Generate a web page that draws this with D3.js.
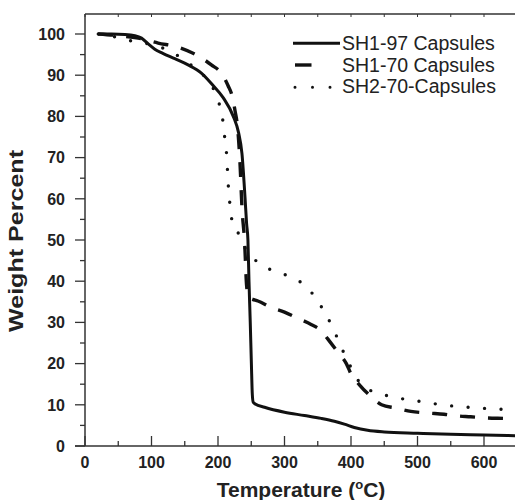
<!DOCTYPE html>
<html><head><meta charset="utf-8">
<script src="https://cdn.jsdelivr.net/npm/d3@7"></script>
<style>body{margin:0;background:#fff}svg{display:block}text{font-family:"Liberation Sans",Arial,sans-serif;fill:#222}</style>
</head><body>
<svg id="c" width="515" height="500"></svg>
<script>
const seriesNames = ["SH1-97 Capsules", "SH1-70 Capsules", "SH2-70-Capsules"];
const sh197 = [[20,100],[40,100],[60,99.9],[75,99.6],[85,99],[95,97.6],[105,96.3],[117,95.3],[135,94],[155,92.5],[175,90.5],[192,87.6],[208,84.5],[223,80],[231,76],[236,71],[240.6,60.4],[243,54],[245,50],[246.6,40],[248.5,30],[250.2,20],[251.6,12.5],[253,10.6],[256,10.2],[270,9.4],[300,8.2],[330,7.4],[355,6.7],[375,6],[390,5.3],[405,4.5],[425,3.8],[450,3.4],[500,3.1],[550,2.85],[600,2.7],[650,2.5]];
const sh170 = [[20,100],[50,99.6],[80,99],[110,97.8],[140,96.8],[160,95.5],[175,94.2],[190,92.5],[205,90.5],[215,87.5],[222,84.5],[226,81],[229,78],[233,69],[236,58],[240,49.5],[243,39],[246,36],[252,35.6],[260,35.2],[280,33.6],[300,32.5],[320,31],[340,29.5],[355,28],[365,26],[380,22.8],[393,20],[400,17.5],[413,14.8],[430,12],[446,10],[468,9.2],[490,8.4],[515,8.0],[540,7.7],[560,7.3],[580,7.1],[605,6.8],[630,6.7],[650,6.6]];
const sh270 = [[20,100],[48,99.2],[70,98.3],[95,97.6],[117,96.6],[137,95],[155,93],[175,90.5],[190,87.6],[201,83.5],[207,79.3],[210,75],[213,70.6],[214.5,66.2],[216,61.9],[219,57.5],[222.5,53.2],[228,52.4],[238,48.8],[253,45.6],[270,43.5],[292,42.1],[314,40.7],[334,38.5],[349,35.4],[362,32],[374,28.2],[385,24.1],[398,19.7],[414,15.2],[433,13.2],[455,12.2],[479,11.4],[504,10.8],[528,10.2],[553,9.7],[578,9.4],[604,9.1],[630,8.9],[650,8.8]];
const xTicks = [0,100,200,300,400,500,600];
const yTicks = [0,10,20,30,40,50,60,70,80,90,100];

const svg = d3.select("#c");
const x = d3.scaleLinear().domain([0,600]).range([85,484]);
const y = d3.scaleLinear().domain([0,100]).range([446,34]);
const L=85, R=515, T=14, B=446;

svg.append("clipPath").attr("id","clip").append("rect").attr("x",L).attr("y",T).attr("width",R-L).attr("height",B-T);

// curves
const line = d3.line().x(d=>x(d[0])).y(d=>y(d[1])).curve(d3.curveMonotoneX);
const g = svg.append("g").attr("clip-path","url(#clip)");
g.append("path").datum(sh270).attr("d",line).attr("fill","none").attr("stroke","#111").attr("stroke-width",3.4).attr("stroke-linecap","round").attr("stroke-dasharray","0 16.5");
g.append("path").datum(sh170).attr("d",line).attr("fill","none").attr("stroke","#111").attr("stroke-width",3.4).attr("stroke-dasharray","15 13");
g.append("path").datum(sh197).attr("d",line).attr("fill","none").attr("stroke","#111").attr("stroke-width",3);

// axes
const ax = svg.append("g").attr("stroke","#333").attr("fill","none");
// bottom axis
ax.append("line").attr("x1",75).attr("x2",R).attr("y1",B).attr("y2",B).attr("stroke-width",1.5);
const xMinor = d3.range(0,650,50);
ax.selectAll(".xt").data(xMinor).join("line").attr("x1",d=>x(d)).attr("x2",d=>x(d)).attr("y1",B).attr("y2",d=>d%100===0?B-10:B-5).attr("stroke-width",1.3);
// top line
ax.append("line").attr("x1",L).attr("x2",R).attr("y1",T).attr("y2",T).attr("stroke-width",1.3);
ax.selectAll(".xtt").data(xMinor).join("line").attr("x1",d=>x(d)).attr("x2",d=>x(d)).attr("y1",T).attr("y2",T+3).attr("stroke-width",1);
// left axis
ax.append("line").attr("x1",L).attr("x2",L).attr("y1",T).attr("y2",B).attr("stroke-width",1.5);
const yMinor = d3.range(0,105,5);
ax.selectAll(".yt").data(yMinor).join("line").attr("y1",d=>y(d)).attr("y2",d=>y(d)).attr("x1",L).attr("x2",d=>d%10===0?L-10:L-5).attr("stroke-width",1.3);

// tick labels
svg.selectAll(".yl").data(yTicks).join("text").attr("x",65).attr("y",d=>y(d)).attr("dy","0.36em").attr("text-anchor","end").attr("font-size",16).attr("font-weight","bold").text(d=>d);
svg.selectAll(".xl").data(xTicks).join("text").attr("x",d=>x(d)).attr("y",468).attr("text-anchor","middle").attr("font-size",16).attr("font-weight","bold").text(d=>d);

// titles
const xt = svg.append("text").attr("x",301).attr("y",496.5).attr("text-anchor","middle").attr("font-size",21).attr("font-weight","bold");
xt.append("tspan").text("Temperature (");
xt.append("tspan").attr("font-size",13).attr("dy",-8).text("o");
xt.append("tspan").attr("dy",8).text("C)");
svg.append("text").attr("transform","translate(23,241) rotate(-90)").attr("text-anchor","middle").attr("font-size",21).attr("font-weight","bold").attr("textLength",182).attr("lengthAdjust","spacingAndGlyphs").text("Weight Percent");

// legend
const lg = svg.append("g");
const rows = [50, 71.7, 93.3];
const lineY = [43.3, 65, 87.3];
lg.append("line").attr("x1",293).attr("x2",340).attr("y1",lineY[0]).attr("y2",lineY[0]).attr("stroke","#111").attr("stroke-width",3);
lg.append("line").attr("x1",295).attr("x2",311.5).attr("y1",lineY[1]).attr("y2",lineY[1]).attr("stroke","#111").attr("stroke-width",3.4);
lg.append("line").attr("x1",295).attr("x2",335).attr("y1",lineY[2]).attr("y2",lineY[2]).attr("stroke","#111").attr("stroke-width",3).attr("stroke-linecap","round").attr("stroke-dasharray","0 17.5");
lg.selectAll(".lt").data(seriesNames).join("text").attr("x",342).attr("y",(d,i)=>rows[i]).attr("font-size",19.5).text(d=>d);
</script>
</body></html>
